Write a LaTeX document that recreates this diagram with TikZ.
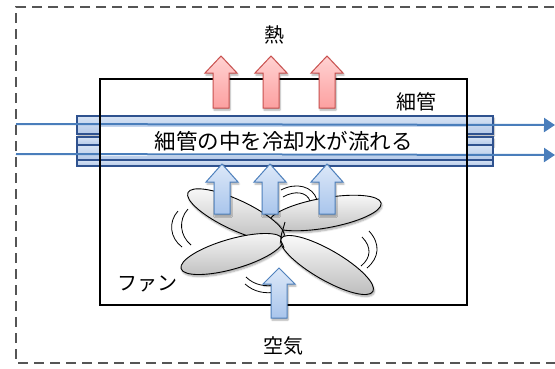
\documentclass[tikz,border=0pt]{standalone}
\usepackage{fontspec}
\newfontfamily\jpfont{Noto Sans CJK JP}
\usetikzlibrary{shadows.blur,arrows.meta}

\definecolor{flowblue}{HTML}{4A7EBB}
\definecolor{tubeedge}{HTML}{2F528F}
\definecolor{tubetop}{HTML}{D7E3F4}
\definecolor{tubebot}{HTML}{B4C9E8}
\definecolor{heatedge}{HTML}{C9514F}
\definecolor{heattop}{HTML}{FFD2D2}
\definecolor{heatbot}{HTML}{FCA0A0}
\definecolor{airedge}{HTML}{4F81BD}
\definecolor{airtop}{HTML}{DCE8F8}
\definecolor{airbot}{HTML}{A9C5EC}
\definecolor{frame}{HTML}{555555}

% block arrow pointing up: style, x centre, tip y, head base y, bottom y
\newcommand\blkarrow[5]{%
  \draw[#1] (#2,#3) -- (#2+16,#4) -- (#2+8,#4) -- (#2+8,#5)
    -- (#2-8,#5) -- (#2-8,#4) -- (#2-16,#4) -- cycle;}

\tikzset{
  softshadow/.style={blur shadow={shadow xshift=1pt,shadow yshift=-2pt,
      shadow blur steps=6,shadow opacity=35}},
  heatarrow/.style={draw=heatedge,line width=1pt,top color=heattop,
      bottom color=heatbot,softshadow},
  airarrow/.style={draw=airedge,line width=1pt,top color=airtop,
      bottom color=airbot,softshadow},
  tube/.style={draw=tubeedge,line width=1.1pt,top color=tubetop,
      bottom color=tubebot},
  blade/.style={draw=black,line width=0.9pt,shading=axis,
      top color=gray!6,bottom color=gray!50,softshadow},
  whirl/.style={draw=black,line width=0.8pt},
  flow/.style={draw=flowblue,line width=2pt,
      -{Triangle[length=11pt,width=14pt]}},
  lbl/.style={inner sep=0pt,font=\jpfont\fontsize{20}{24}\selectfont},
}

\begin{document}
\begin{tikzpicture}[x=1pt,y=-1pt]
\useasboundingbox (0,0) rectangle (555,368);

% outer dashed enclosure (open on the right)
\draw[frame,line width=1.5pt,dash pattern=on 10pt off 6pt]
  (570,7) -- (16,7) -- (16,363) -- (570,363);

% bundle of thin tubes
\draw[tube,softshadow] (77,116) rectangle (493,134);
\draw[tube,softshadow] (77,137) rectangle (493,145);
\draw[tube] (77,145) rectangle (493,160);
\draw[tube] (77,160) rectangle (493,166);

% caption band across the radiator
\node[lbl,fill=white,minimum width=366pt,minimum height=29pt,
  font=\jpfont\fontsize{21.5}{24}\selectfont] (caption) at (283.5,141.5)
  {細管の中を冷却水が流れる};

% coolant flow lines
\coordinate (in1) at (16,124);
\coordinate (out1) at (555,125);
\coordinate (in2) at (16,154);
\coordinate (out2) at (555,155);
\draw[flow] (in1) -- (out1);
\draw[flow] (in2) -- (out2);

% radiator housing
\draw[black,line width=1.6pt] (100,79) rectangle (467,305);

% fan blades
\draw[blade,rotate around={10:(325,213)}] (325,213) ellipse [x radius=57, y radius=15];
\draw[blade,rotate around={-25:(236,215)}] (236,215) ellipse [x radius=53, y radius=15];
\draw[blade,rotate around={16:(232,254)}] (232,254) ellipse [x radius=53, y radius=15];
\draw[blade,rotate around={-30:(327,265)}] (327,265) ellipse [x radius=53, y radius=15];
\draw[black,line width=0.9pt] (285,222) .. controls (283,230) and (280,236) .. (281,241)
  .. controls (282,244) and (284,246) .. (284,248);

% motion marks around the fan
\draw[whirl] (178,211) .. controls (168,222) and (170,238) .. (182,247);
\draw[whirl] (188,209) .. controls (178,220) and (180,236) .. (191,245);
\draw[whirl] (281,190) .. controls (296,182) and (313,186) .. (317,200);
\draw[whirl] (283,197) .. controls (295,190) and (307,192) .. (310,201);
\draw[whirl] (369,231) .. controls (381,244) and (379,258) .. (367,268);
\draw[whirl] (362,237) .. controls (372,247) and (371,258) .. (361,266);
\draw[whirl] (246,277) .. controls (254,285) and (265,287) .. (276,285);
\draw[whirl] (245,284) .. controls (254,292) and (265,294) .. (276,292);

% air drawn through the fan
\blkarrow{airarrow}{222}{164}{182}{214}
\blkarrow{airarrow}{270}{164}{182}{214}
\blkarrow{airarrow}{327}{164}{182}{214}
\blkarrow{airarrow}{279}{268}{284}{318}

% heat leaving the radiator
\blkarrow{heatarrow}{221}{56}{73}{108}
\blkarrow{heatarrow}{271}{56}{73}{108}
\blkarrow{heatarrow}{327}{56}{73}{108}

% labels
\node[lbl] (heat) at (274,35) {熱};
\node[lbl] (tubes) at (416,102) {細管};
\node[lbl] (fan) at (147,284) {ファン};
\node[lbl] (air) at (283,346) {空気};
\end{tikzpicture}
\end{document}
